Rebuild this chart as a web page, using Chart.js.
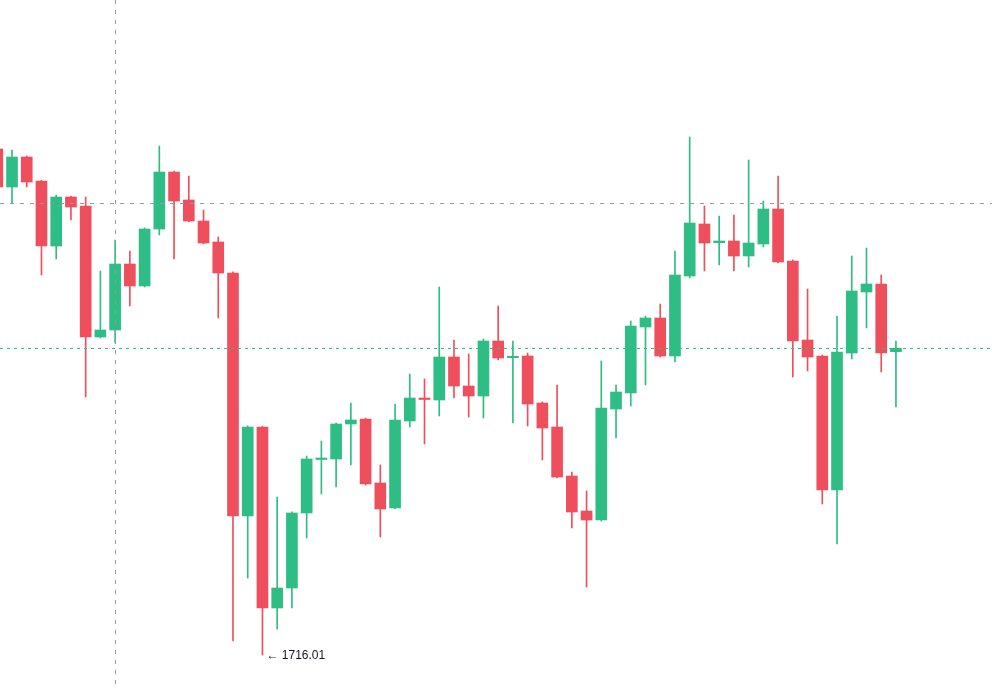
<!DOCTYPE html>
<html>
<head>
<meta charset="utf-8">
<script src="https://cdn.jsdelivr.net/npm/chart.js@4.4.0/dist/chart.umd.min.js"></script>
<style>
  html, body { margin: 0; padding: 0; background: #ffffff; }
  #wrap { width: 992px; height: 689px; position: relative; }
</style>
</head>
<body>
<div id="wrap"><canvas id="c"></canvas></div>
<script>
// Candle index (categories) and OHLC series
const categories = Array.from({length: 62}, (_, i) => i);
const opens = [1842.51,1833.01,1840.51,1834.51,1818.26,1830.51,1828.26,1795.51,1797.26,1813.76,1808.26,1822.51,1836.76,1829.76,1824.51,1819.26,1811.51,1750.76,1773.01,1727.76,1732.76,1751.51,1764.89,1765.01,1773.76,1775.01,1759.01,1752.76,1774.51,1780.26,1779.76,1790.51,1783.26,1780.76,1794.51,1790.34,1790.76,1779.01,1773.01,1760.76,1752.01,1749.76,1777.51,1781.51,1798.01,1800.26,1790.76,1810.76,1823.76,1819.09,1819.51,1815.76,1818.76,1827.51,1814.51,1794.76,1790.76,1757.26,1791.51,1806.76,1808.76,1791.84];
const highs = [1843.26,1842.26,1840.76,1834.7,1831.01,1830.76,1830.51,1812.01,1819.76,1817.01,1822.8,1843.26,1837.0,1835.76,1827.26,1820.51,1811.8,1773.3,1773.2,1755.51,1751.8,1765.76,1769.51,1774.0,1779.01,1775.26,1763.51,1778.76,1786.26,1785.01,1808.01,1794.76,1791.26,1795.01,1803.26,1794.51,1791.51,1779.3,1783.51,1761.76,1757.01,1789.51,1783.51,1799.51,1800.76,1803.76,1817.01,1845.51,1828.26,1825.76,1826.01,1839.76,1829.51,1835.76,1814.8,1807.51,1791.0,1800.76,1815.76,1817.76,1811.01,1794.51];
const lows = [1832.26,1829.01,1833.01,1811.01,1815.01,1824.76,1780.51,1795.26,1794.01,1803.26,1808.0,1821.01,1815.01,1824.3,1818.8,1800.26,1719.51,1735.26,1716.01,1722.51,1727.76,1745.26,1756.26,1758.01,1763.51,1758.5,1745.51,1752.5,1773.01,1768.76,1775.76,1780.26,1775.51,1775.26,1789.76,1774.01,1773.26,1764.76,1760.3,1747.76,1733.01,1749.5,1770.26,1778.26,1783.51,1790.5,1789.26,1810.26,1812.01,1813.51,1812.01,1813.01,1818.01,1814.0,1785.51,1787.01,1753.76,1743.76,1790.01,1797.76,1786.76,1778.01];
const closes = [1833.01,1840.51,1834.26,1818.26,1830.51,1828.01,1795.51,1797.26,1813.76,1808.26,1822.51,1836.76,1829.51,1824.51,1819.01,1811.51,1750.76,1773.01,1727.76,1732.76,1751.51,1765.01,1765.26,1773.76,1774.76,1758.76,1752.51,1774.76,1780.26,1779.89,1790.51,1783.26,1780.76,1794.51,1790.26,1790.69,1778.76,1772.76,1760.51,1751.76,1749.76,1777.76,1781.76,1798.26,1800.26,1790.76,1811.01,1824.01,1819.01,1819.51,1815.76,1819.01,1827.51,1814.26,1794.51,1790.51,1757.26,1791.76,1807.01,1808.76,1791.51,1792.69];

// Marker values
const crosshairIndex = 8;
const crosshairPrice = 1829.01;
const lastPrice = closes[closes.length - 1];
const lowLabel = "\u2190 1716.01";

const UP = '#2ebd85';
const DOWN = '#ef4f5c';
const colors = categories.map(i => closes[i] >= opens[i] ? UP : DOWN);

// Ensure doji bodies have a visible thickness
const bodyData = categories.map(i => {
  let a = Math.min(opens[i], closes[i]), b = Math.max(opens[i], closes[i]);
  if (b - a < 0.3) { const m = (a + b) / 2; a = m - 0.15; b = m + 0.15; }
  return {x: i, y: [a, b]};
});
const wickData = categories.map(i => ({x: i, y: [lows[i], highs[i]]}));

let lowIdx = 0;
lows.forEach((v, i) => { if (v < lows[lowIdx]) lowIdx = i; });

const overlay = {
  id: 'overlay',
  afterDatasetsDraw(chart) {
    const ctx = chart.ctx;
    const xs = chart.scales.x, ys = chart.scales.y;
    const W = chart.width, H = chart.height;
    ctx.save();
    // crosshair (gray dashed)
    ctx.strokeStyle = '#9598a1';
    ctx.lineWidth = 1;
    ctx.setLineDash([4, 6]);
    const cx = Math.round(xs.getPixelForValue(crosshairIndex)) + 0.5;
    ctx.beginPath(); ctx.moveTo(cx, 0); ctx.lineTo(cx, H); ctx.stroke();
    const cy = Math.round(ys.getPixelForValue(crosshairPrice)) + 0.5;
    ctx.beginPath(); ctx.moveTo(0, cy); ctx.lineTo(W, cy); ctx.stroke();
    // last price line (teal dashed)
    ctx.strokeStyle = UP;
    ctx.setLineDash([3, 4]);
    const ly = Math.round(ys.getPixelForValue(lastPrice)) + 0.5;
    ctx.beginPath(); ctx.moveTo(0, ly); ctx.lineTo(W, ly); ctx.stroke();
    // low label
    ctx.setLineDash([]);
    ctx.fillStyle = '#131722';
    ctx.font = '12px "Liberation Sans", Arial, sans-serif';
    ctx.textBaseline = 'middle';
    ctx.textAlign = 'left';
    ctx.fillText(lowLabel, xs.getPixelForValue(lowIdx) + 4, ys.getPixelForValue(lows[lowIdx]) + 1);
    ctx.restore();
  }
};

new Chart(document.getElementById('c'), {
  type: 'bar',
  data: {
    datasets: [
      { label: 'wick', data: wickData, backgroundColor: colors, barThickness: 1, grouped: false, borderWidth: 0 },
      { label: 'body', data: bodyData, backgroundColor: colors, barThickness: 11, grouped: false, borderWidth: 0 }
    ]
  },
  options: {
    responsive: true,
    maintainAspectRatio: false,
    animation: false,
    layout: { padding: 0 },
    plugins: { legend: { display: false }, tooltip: { enabled: false } },
    scales: {
      x: { type: 'linear', min: 0.1855, max: 67.52, display: false, offset: false },
      y: { min: 1707.51, max: 1879.76, display: false }
    }
  },
  plugins: [overlay]
});
</script>
</body>
</html>
